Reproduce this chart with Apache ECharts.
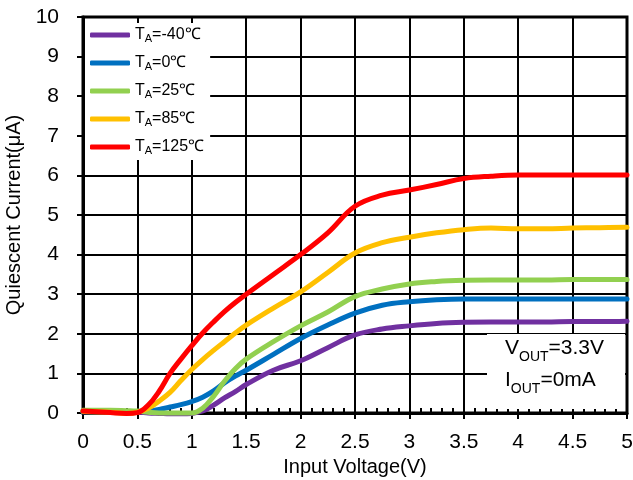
<!DOCTYPE html>
<html>
<head>
<meta charset="utf-8">
<script src="https://cdn.jsdelivr.net/npm/echarts@6/dist/echarts.min.js"></script>
<style>html,body{margin:0;padding:0;background:#fff;}#c{width:633px;height:480px;}</style>
</head>
<body>
<div id="c"></div>
<script>
// Input voltage (V)
const voltage = [0, 0.25, 0.4, 0.5, 0.6, 0.7, 0.8, 0.9, 1.0, 1.1, 1.2, 1.3, 1.4, 1.5, 1.75, 2.0, 2.25, 2.5, 2.75, 3.0, 3.25, 3.5, 3.75, 4.0, 4.25, 4.5, 4.75, 5.0];
// Quiescent current (uA)
const iqM40 = [0.03, 0.03, 0.02, 0.02, 0.0, -0.01, -0.02, -0.02, -0.01, 0.05, 0.2, 0.38, 0.54, 0.72, 1.08, 1.32, 1.65, 1.97, 2.12, 2.2, 2.26, 2.29, 2.3, 2.3, 2.3, 2.31, 2.31, 2.32];
const iq0 = [0.03, 0.03, 0.03, 0.04, 0.05, 0.09, 0.15, 0.21, 0.29, 0.4, 0.56, 0.76, 0.93, 1.08, 1.48, 1.88, 2.22, 2.52, 2.72, 2.81, 2.86, 2.88, 2.88, 2.88, 2.88, 2.88, 2.88, 2.88];
const iq25 = [0.07, 0.07, 0.06, 0.05, 0.02, 0.0, 0.0, 0.0, 0.0, 0.12, 0.42, 0.8, 1.12, 1.36, 1.8, 2.2, 2.55, 2.94, 3.13, 3.26, 3.32, 3.35, 3.36, 3.36, 3.36, 3.37, 3.37, 3.37];
const iq85 = [0.04, 0.02, -0.01, 0.02, 0.12, 0.3, 0.52, 0.82, 1.1, 1.35, 1.58, 1.8, 2.02, 2.22, 2.65, 3.06, 3.55, 4.04, 4.3, 4.44, 4.55, 4.63, 4.67, 4.65, 4.65, 4.67, 4.68, 4.69];
const iq125 = [0.05, 0.01, -0.01, 0.01, 0.2, 0.55, 1.0, 1.36, 1.7, 2.02, 2.3, 2.56, 2.79, 3.0, 3.5, 4.0, 4.55, 5.22, 5.5, 5.63, 5.77, 5.92, 5.98, 6.01, 6.01, 6.01, 6.01, 6.01];

const seriesNames = ['TA=-40℃', 'TA=0℃', 'TA=25℃', 'TA=85℃', 'TA=125℃'];
const seriesTemps = ['-40', '0', '25', '85', '125'];
const seriesData = [iqM40, iq0, iq25, iq85, iq125];
const seriesColors = ['#7030A0', '#0070C0', '#92D050', '#FFC000', '#FF0000'];

const xTicks = { min: 0, max: 5, interval: 0.5 };
const yTicks = { min: 0, max: 10, interval: 1 };

const FONT = '"Liberation Sans", Arial, sans-serif';

const chart = echarts.init(document.getElementById('c'), null, { renderer: 'canvas' });

const series = seriesNames.map((name, i) => ({
  name: name,
  type: 'line',
  data: voltage.map((v, k) => [v, seriesData[i][k]]),
  smooth: 0.4,
  showSymbol: false,
  symbol: 'none',
  clip: false,
  lineStyle: { color: seriesColors[i], width: 5, cap: 'round', join: 'round' },
  itemStyle: { color: seriesColors[i] },
  z: 3 + i
}));

chart.setOption({
  animation: false,
  backgroundColor: '#ffffff',
  grid: { left: 83, right: 6, top: 17, bottom: 67, containLabel: false, outerBoundsMode: 'none',
    show: true, borderColor: '#000', borderWidth: 3, backgroundColor: 'transparent' },
  legend: {
    orient: 'vertical',
    left: 85,
    top: 23,
    padding: [4, 6, 4, 5],
    backgroundColor: '#ffffff',
    itemWidth: 40,
    itemHeight: 5,
    itemGap: 11,
    icon: 'roundRect',
    data: seriesNames,
    formatter: function (name) {
      const i = seriesNames.indexOf(name);
      return '{t|T}{s|A}{t|=' + seriesTemps[i] + '℃}';
    },
    textStyle: {
      color: '#000',
      fontFamily: FONT,
      rich: {
        t: { fontSize: 16, fontFamily: FONT, color: '#000', lineHeight: 18 },
        s: { fontSize: 11, fontFamily: FONT, color: '#000', lineHeight: 14, verticalAlign: 'bottom' }
      }
    },
    itemStyle: { borderWidth: 0 },
    z: 10
  },
  xAxis: [{
    type: 'value',
    min: xTicks.min, max: xTicks.max, interval: xTicks.interval,
    name: 'Input Voltage(V)',
    nameLocation: 'middle',
    nameGap: 41,
    nameTextStyle: { fontSize: 20, fontFamily: FONT, color: '#000' },
    axisLine: { show: true, onZero: false, lineStyle: { color: '#000', width: 3 } },
    axisTick: { show: true, inside: false, length: 6, lineStyle: { color: '#000', width: 2 } },
    axisLabel: { fontSize: 21, fontFamily: FONT, color: '#000', margin: 19,
      formatter: function (v) { return String(v); } },
    splitLine: { show: true, lineStyle: { color: '#000', width: 2 } }
  }, {
    type: 'value',
    position: 'bottom',
    min: xTicks.min, max: xTicks.max, interval: xTicks.interval,
    axisLine: { show: false },
    axisTick: { show: false, inside: true },
    minorTick: { show: true, splitNumber: 5, length: 5, lineStyle: { color: '#000', width: 2 } },
    axisLabel: { show: false },
    splitLine: { show: false }
  }],
  yAxis: {
    type: 'value',
    min: yTicks.min, max: yTicks.max, interval: yTicks.interval,
    name: 'Quiescent Current(μA)',
    nameLocation: 'middle',
    nameGap: 57,
    nameTextStyle: { fontSize: 20, fontFamily: FONT, color: '#000' },
    axisLine: { show: true, onZero: false, lineStyle: { color: '#000', width: 3 } },
    axisTick: { show: true, inside: false, length: 6, lineStyle: { color: '#000', width: 2 } },
    axisLabel: { fontSize: 21, fontFamily: FONT, color: '#000', margin: 24 },
    splitLine: { show: true, lineStyle: { color: '#000', width: 2 } }
  },
  graphic: [{
    type: 'rect',
    left: 487, top: 334,
    shape: { width: 138, height: 75 },
    style: { fill: '#ffffff' },
    z: 50
  }, {
    type: 'text',
    left: 505, top: 338,
    style: {
      text: '{m|V}{s|OUT}{m|=3.3V}\n{m|I}{s|OUT}{m|=0mA}',
      rich: {
        m: { fontSize: 21, fontFamily: FONT, fill: '#000', lineHeight: 32 },
        s: { fontSize: 14, fontFamily: FONT, fill: '#000', lineHeight: 14, verticalAlign: 'bottom' }
      }
    },
    z: 51
  }],
  series: series
});
</script>
</body>
</html>
